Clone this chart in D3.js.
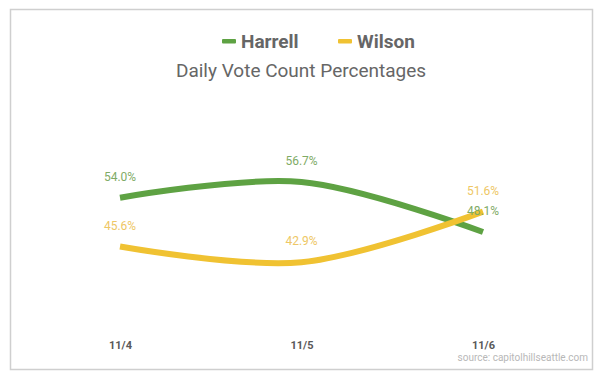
<!DOCTYPE html>
<html><head><meta charset="utf-8">
<script src="https://cdn.jsdelivr.net/npm/d3@7"></script>
<style>body{margin:0;background:#fff;}svg{display:block;font-family:Roboto,"Noto Sans",sans-serif;}</style>
</head><body>
<svg id="c" width="600" height="379"></svg>
<script>
const categories = ["11/4", "11/5", "11/6"];
const harrell = [54.0, 56.7, 48.1];
const wilson = [45.6, 42.9, 51.6];
const seriesNames = ["Harrell", "Wilson"];
const colors = ["#5ea243", "#f0c232"];
const labelColors = ["#7fab66", "#eec765"];

const svg = d3.select("#c");
svg.append("rect").attr("x",10.5).attr("y",9.5).attr("width",582).attr("height",360)
  .attr("fill","#fff").attr("stroke","#cfcfcf").attr("stroke-width",1.5);

const x = d3.scalePoint().domain(categories).range([120, 483]);
const y = d3.scaleLinear().domain([48.1, 56.7]).range([232, 182]);

const line = d3.line().x((d,i)=>x(categories[i])).y(d=>y(d)).curve(d3.curveCatmullRom.alpha(0.5));

[harrell, wilson].forEach((s, k) => {
  svg.append("path").attr("d", line(s)).attr("fill","none")
    .attr("stroke", colors[k]).attr("stroke-width", 6).attr("stroke-linecap","butt");
});
[harrell, wilson].forEach((s, k) => {
  svg.selectAll(null).data(s).enter().append("text")
    .attr("x",(d,i)=>x(categories[i])).attr("y",d=>y(d)-17)
    .attr("text-anchor","middle").attr("font-size",12).attr("fill",labelColors[k])
    .text(d=>d.toFixed(1)+"%");
});

// x axis labels
const ax = svg.append("g").attr("transform","translate(0,351)")
  .call(d3.axisBottom(x).tickSize(0).tickPadding(0));
ax.select(".domain").remove();
ax.selectAll("text").attr("font-size",11).attr("font-weight","bold").attr("fill","#595959")
  .attr("font-family","Roboto, sans-serif").attr("dy","-0.2em");

// legend
const legend = [{x:222, tx:241}, {x:338, tx:357}];
seriesNames.forEach((n,k)=>{
  svg.append("rect").attr("x",legend[k].x).attr("y",39).attr("width",14).attr("height",4.5).attr("fill",colors[k]).attr("rx",1);
  svg.append("text").attr("x",legend[k].tx).attr("y",48).attr("font-size",19).attr("font-weight","bold")
    .attr("fill","#666").text(n);
});
svg.append("text").attr("x",301).attr("y",77).attr("text-anchor","middle").attr("font-size",19)
  .attr("fill","#666").text("Daily Vote Count Percentages");
svg.append("text").attr("x",588).attr("y",361).attr("text-anchor","end").attr("font-size",10)
  .attr("fill","#b8b8b8").text("source: capitolhillseattle.com");
</script>
</body></html>
